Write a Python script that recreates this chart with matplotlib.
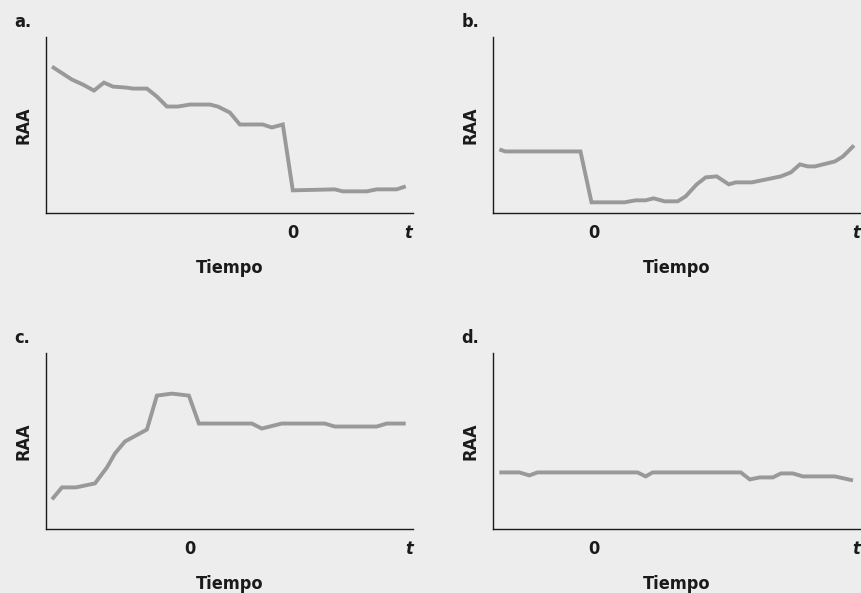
"""Four-panel RAA-vs-time sketch (panels a-d), condensed bold labels."""

import matplotlib

matplotlib.use("Agg")
import matplotlib.pyplot as plt  # noqa: E402

C_BG = "#EDEDED"      # page background
C_LINE = "#999999"    # grey series line
C_AXIS = "#1A1A1A"    # spines and text

FONT = dict(family="DejaVu Sans", stretch="condensed", weight="bold",
            fontsize=13, color=C_AXIS)

# ---- data (time: 0 at the event tick; RAA in arbitrary units) ----
time_a = [-24.1, -22.1, -21.0, -19.9, -18.9, -18.0, -16.7, -16.0, -14.6, -13.6,
          -12.6, -11.5, -10.3, -8.3, -7.5, -6.3, -5.3, -3.0, -2.1, -1.0,
          0.0, 4.2, 5.0, 7.4, 8.4, 10.4, 11.3]
raa_a = [14.7, 13.4, 12.9, 12.3, 13.1, 12.7, 12.6, 12.5, 12.5, 11.7,
         10.7, 10.7, 10.9, 10.9, 10.7, 10.1, 8.9, 8.9, 8.6, 8.9,
         2.3, 2.4, 2.2, 2.2, 2.4, 2.4, 2.7]

time_b = [-9.4, -8.8, -1.3, -0.2, 3.1, 4.2, 5.2, 6.0, 7.1, 8.4, 9.2, 10.3,
          11.2, 12.3, 13.5, 14.2, 15.8, 18.7, 19.7, 20.6, 21.4, 22.1, 24.1,
          24.9, 26.0]
raa_b = [6.4, 6.2, 6.2, 1.1, 1.1, 1.3, 1.3, 1.5, 1.2, 1.2, 1.7, 2.9,
         3.6, 3.7, 2.9, 3.1, 3.1, 3.7, 4.1, 4.9, 4.7, 4.7, 5.2,
         5.7, 6.8]

time_c = [-13.8, -12.8, -11.4, -9.5, -8.3, -7.5, -6.5, -4.3, -3.3, -1.8,
          -0.1, 0.9, 6.2, 7.2, 9.2, 13.5, 14.5, 18.7, 19.7, 21.6]
raa_c = [3.0, 4.2, 4.2, 4.6, 6.2, 7.6, 8.8, 10.0, 13.4, 13.6,
         13.4, 10.6, 10.6, 10.1, 10.6, 10.6, 10.3, 10.3, 10.6, 10.6]

time_d = [-9.4, -7.4, -6.4, -5.6, 4.4, 5.2, 5.9, 14.7, 15.6, 16.6, 17.9,
          18.7, 19.9, 20.9, 24.1, 25.9]
raa_d = [5.7, 5.7, 5.4, 5.7, 5.7, 5.3, 5.7, 5.7, 5.0, 5.2, 5.2,
         5.6, 5.6, 5.3, 5.3, 4.9]

panel_letters = ["a.", "b.", "c.", "d."]
x_tick_labels = ["0", "t"]
x_label = "Tiempo"
y_label = "RAA"

# per panel: (time, raa, xlim, t-tick position)
PANELS = [
    (time_a, raa_a, (-24.7, 12.0), 11.5),
    (time_b, raa_b, (-10.0, 26.6), 26.2),
    (time_c, raa_c, (-14.4, 22.3), 21.9),
    (time_d, raa_d, (-10.0, 26.6), 26.2),
]
Y_MAX = 17.7

W, H = 862, 593
# axes boxes in pixels: left, top, right, bottom
BOXES = [
    (46, 36.7, 412.7, 213.3),
    (493.3, 36.7, 860, 213.3),
    (46, 352.7, 412.7, 529.3),
    (493.3, 352.7, 860, 529.3),
]


def draw_panel(fig, box, data, letter):
    left, top, right, bottom = box
    ax = fig.add_axes([left / W, 1 - bottom / H, (right - left) / W,
                       (bottom - top) / H])
    t, raa, xlim, t_pos = data
    ax.set_facecolor(C_BG)
    ax.plot(t, raa, color=C_LINE, lw=2.8, solid_joinstyle="miter",
            solid_capstyle="butt", clip_on=False)
    ax.set_xlim(*xlim)
    ax.set_ylim(0, Y_MAX)
    for side in ("top", "right"):
        ax.spines[side].set_visible(False)
    for side in ("left", "bottom"):
        ax.spines[side].set_color(C_AXIS)
        ax.spines[side].set_linewidth(1.0)

    ax.set_yticks([])
    ax.set_xticks([0, t_pos])
    ax.set_xticklabels(x_tick_labels, **FONT)
    ax.get_xticklabels()[1].set_style("italic")
    ax.tick_params(axis="x", length=0, pad=8)

    ax.set_xlabel(x_label, labelpad=12, **FONT)
    ax.set_ylabel(y_label, labelpad=10, **FONT)

    fig.text((left - 32) / W, 1 - (top - 15) / H, letter,
             ha="left", va="center", **FONT)
    return ax


def main():
    fig = plt.figure(figsize=(W / 100, H / 100), dpi=100, facecolor=C_BG)
    for box, data, letter in zip(BOXES, PANELS, panel_letters):
        draw_panel(fig, box, data, letter)
    fig.savefig("out.png", dpi=100, facecolor=C_BG)
    plt.close(fig)


if __name__ == "__main__":
    main()
